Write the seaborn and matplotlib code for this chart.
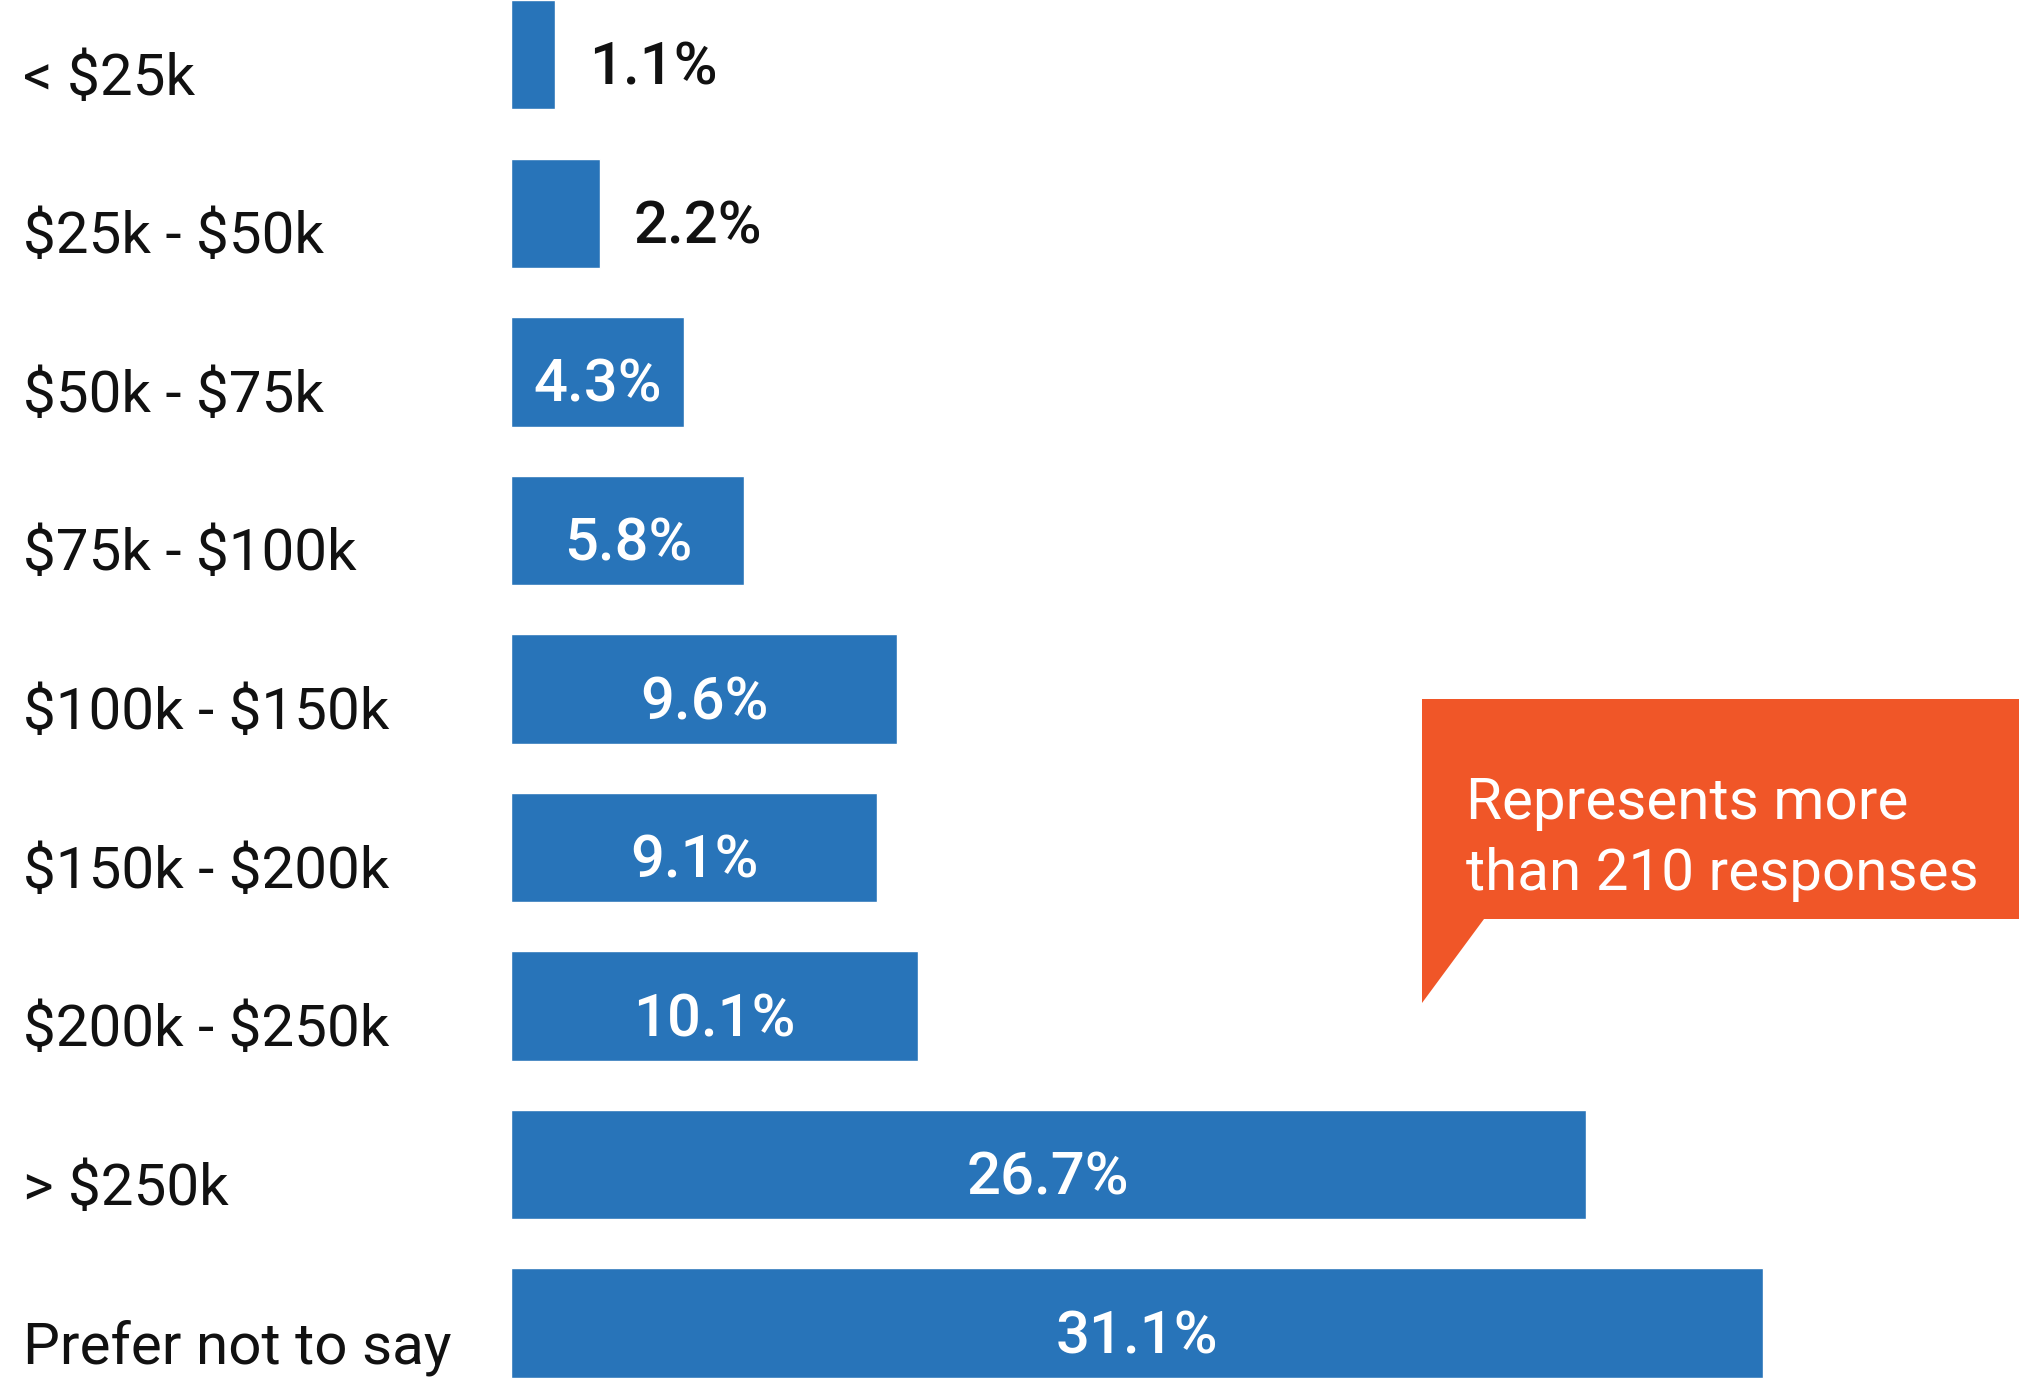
import matplotlib
matplotlib.use("Agg")
import matplotlib.pyplot as plt
import matplotlib.transforms as mtransforms
from matplotlib.patches import Polygon
import seaborn as sns
import pandas as pd

# ---- data ----
categories = ["< $25k", "$25k - $50k", "$50k - $75k", "$75k - $100k",
              "$100k - $150k", "$150k - $200k", "$200k - $250k",
              "> $250k", "Prefer not to say"]
values = [1.1, 2.2, 4.3, 5.8, 9.6, 9.1, 10.1, 26.7, 31.1]
value_labels = ["1.1%", "2.2%", "4.3%", "5.8%", "9.6%", "9.1%", "10.1%", "26.7%", "31.1%"]
callout_text = "Represents more\nthan 210 responses"

BLUE = "#2874B9"
ORANGE = "#F05628"

sns.set_theme(style="white")
plt.rcParams["font.family"] = ["Roboto", "DejaVu Sans"]
plt.rcParams["text.parse_math"] = False

W, H = 2019, 1379
LEFT = 511
fig = plt.figure(figsize=(W / 100, H / 100), dpi=100)
ax = fig.add_axes([LEFT / W, 0, 1 - LEFT / W, 1])

df = pd.DataFrame({"cat": categories, "val": values})
sns.barplot(data=df, x="val", y="cat", orient="h", color=BLUE, width=0.69,
            saturation=1, ax=ax)

ax.set_xlim(0, (W - LEFT) / 40.25)
ax.set_ylim(8.352, -0.345)
for s in ax.spines.values():
    s.set_visible(False)
ax.set_xticks([])
ax.set_yticks([])
ax.set_xlabel("")
ax.set_ylabel("")
ax.patch.set_alpha(0)

# category labels
trans = mtransforms.blended_transform_factory(fig.transFigure, ax.transData)
for i, c in enumerate(categories):
    fig.text(23 / W, i + 0.2525, c, transform=trans, ha="left", va="baseline",
             fontsize=42, color="#111111", parse_math=False)

# value labels
for i, (v, lab) in enumerate(zip(values, value_labels)):
    if v < 3:
        ax.text(v + 0.85, i + 0.19, lab, ha="left", va="baseline",
                fontsize=43, fontweight="medium", color="#111111")
    else:
        ax.text(v / 2, i + 0.19, lab, ha="center", va="baseline",
                fontsize=43, fontweight="medium", color="white")

# callout
def fx(px):
    return px / W

def fy(py):
    return 1 - py / H

poly = Polygon([(fx(1422), fy(699)), (fx(W), fy(699)), (fx(W), fy(919)),
                (fx(1484), fy(919)), (fx(1422), fy(1003)), (fx(1422), fy(699))],
               closed=True, transform=fig.transFigure, facecolor=ORANGE,
               edgecolor="none")
fig.patches.append(poly)
lines = callout_text.split("\n")
fig.text(fx(1466), fy(819), lines[0], ha="left", va="baseline", fontsize=42,
         color="white")
fig.text(fx(1466), fy(890), lines[1], ha="left", va="baseline", fontsize=42,
         color="white")

fig.savefig("out.png", dpi=100, facecolor="white")
